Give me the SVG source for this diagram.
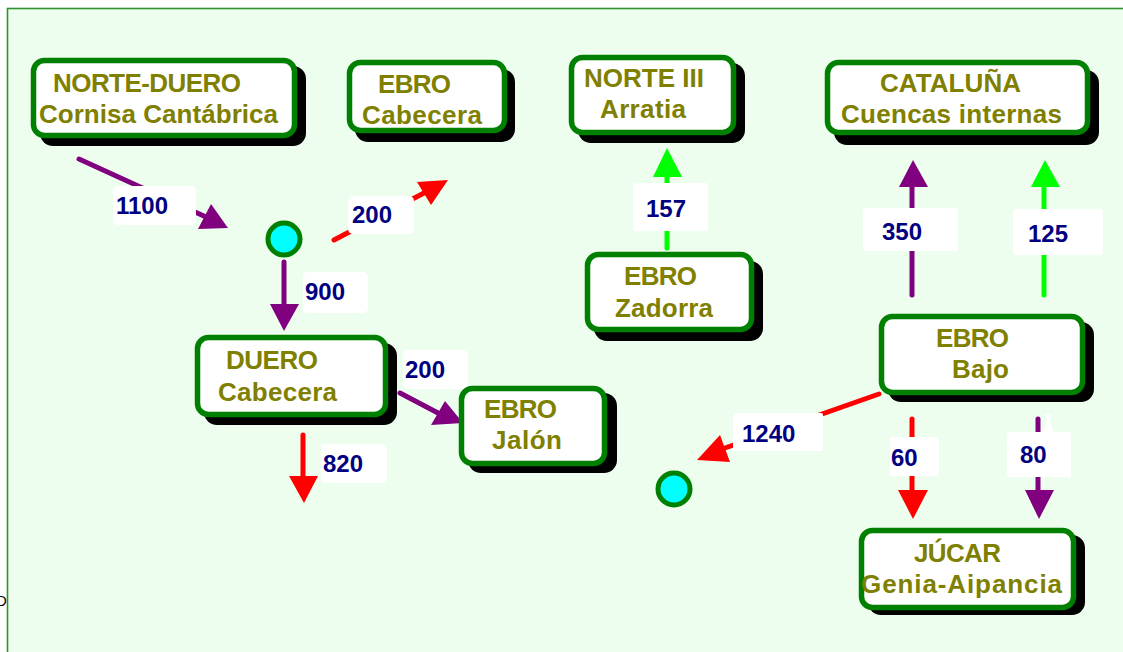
<svg xmlns="http://www.w3.org/2000/svg" width="1123" height="652" viewBox="0 0 1123 652">
<style>
.nt{font-family:"Liberation Sans",Arial,sans-serif;font-weight:bold;font-size:26px;fill:#808000}
.lt{font-family:"Liberation Sans",Arial,sans-serif;font-weight:bold;font-size:24px;fill:#000080}
.box{fill:#ffffff;stroke:#008000;stroke-width:5.5}
.sh{fill:#000000}
.lb{fill:#ffffff}
.pu{stroke:#800080;stroke-width:5;stroke-linecap:round;fill:none}
.rd{stroke:#ff0000;stroke-width:5;stroke-linecap:round;fill:none}
.gr{stroke:#00ff00;stroke-width:5;stroke-linecap:round;fill:none}
.puh{fill:#800080}
.rdh{fill:#ff0000}
.grh{fill:#00ff00}
.jn{fill:#00ffff;stroke:#008000;stroke-width:5}
</style>
<rect x="0" y="0" width="1123" height="652" fill="#ffffff"/>
<text x="-4" y="606" font-family="Liberation Sans, Arial, sans-serif" font-size="15" fill="#000000">D</text>
<rect x="7.5" y="8.5" width="1200" height="700" fill="#eefeee" stroke="#2e922e" stroke-width="1.6"/>

<g id="connectors">
  <line class="pu" x1="79" y1="159" x2="206" y2="217"/>
  <polygon class="puh" points="228,228 198,229 211,204"/>
  <line class="rd" x1="334" y1="240" x2="424" y2="193"/>
  <polygon class="rdh" points="448,180 417,182 431,205"/>
  <line class="pu" x1="284" y1="262" x2="284" y2="306"/>
  <polygon class="puh" points="270,304 299,304 284,331"/>
  <line class="pu" x1="400" y1="393" x2="438" y2="413"/>
  <polygon class="puh" points="463,423 431,425 445,401"/>
  <line class="rd" x1="303" y1="435" x2="303" y2="478"/>
  <polygon class="rdh" points="289,476 318,476 304,503"/>
  <line class="gr" x1="667" y1="248" x2="667" y2="175"/>
  <polygon class="grh" points="653,177 682,177 667,148"/>
  <line class="pu" x1="912" y1="295" x2="912" y2="185"/>
  <polygon class="puh" points="899,187 928,187 913,160"/>
  <line class="gr" x1="1044" y1="295" x2="1044" y2="185"/>
  <polygon class="grh" points="1031,187 1060,187 1045,160"/>
  <line class="rd" x1="879" y1="394" x2="725" y2="448"/>
  <polygon class="rdh" points="697,460 720,435 730,462"/>
  <line class="rd" x1="912" y1="419" x2="912" y2="492"/>
  <polygon class="rdh" points="898,490 928,490 913,519"/>
  <line class="pu" x1="1038" y1="419" x2="1038" y2="492"/>
  <polygon class="puh" points="1025,490 1054,490 1039,519"/>

  <g id="label-1100"><rect class="lb" x="113" y="186" width="83" height="39" rx="5"/><text class="lt" x="116" y="214">1100</text></g>
  <g id="label-200a"><rect class="lb" x="348" y="196" width="66" height="38" rx="5"/><text class="lt" x="352" y="223">200</text></g>
  <g id="label-900"><rect class="lb" x="303" y="272" width="65" height="41" rx="5"/><text class="lt" x="305" y="300">900</text></g>
  <g id="label-200b"><rect class="lb" x="403" y="350" width="65" height="39" rx="5"/><text class="lt" x="405" y="378">200</text></g>
  <g id="label-820"><rect class="lb" x="321" y="444" width="66" height="39" rx="5"/><text class="lt" x="323" y="472">820</text></g>
  <g id="label-157"><rect class="lb" x="633" y="183" width="75" height="48" rx="3"/><text class="lt" x="646" y="217">157</text></g>
  <g id="label-350"><rect class="lb" x="863" y="208" width="95" height="43" rx="3"/><text class="lt" x="882" y="240">350</text></g>
  <g id="label-125"><rect class="lb" x="1013" y="209" width="90" height="46" rx="3"/><text class="lt" x="1028" y="242">125</text></g>
  <g id="label-1240"><rect class="lb" x="733" y="413" width="90" height="38" rx="2"/><text class="lt" x="742" y="442">1240</text></g>
  <g id="label-60"><rect class="lb" x="890" y="437" width="49" height="39" rx="2"/><text class="lt" x="891" y="466">60</text></g>
  <g id="label-80"><rect class="lb" x="1007" y="432" width="64" height="45" rx="3"/><polygon class="lb" points="1043,433 1048,417 1054,433"/><circle class="lb" cx="1048" cy="417" r="3"/><text class="lt" x="1020" y="463">80</text></g>
</g>

<g id="junction-1"><circle class="jn" cx="284" cy="239" r="16"/></g>
<g id="junction-2"><circle class="jn" cx="674" cy="489" r="16"/></g>

<g id="norte-duero">
  <rect class="sh" x="40" y="66" width="266" height="80" rx="13"/>
  <rect class="box" x="33.5" y="60.5" width="261" height="75" rx="11"/>
  <text class="nt" x="53" y="92" textLength="188">NORTE-DUERO</text>
  <text class="nt" x="39" y="123" textLength="239">Cornisa Cantábrica</text>
</g>
<g id="ebro-cabecera">
  <rect class="sh" x="355" y="69" width="160" height="73" rx="13"/>
  <rect class="box" x="349.5" y="62.5" width="155" height="68" rx="11"/>
  <text class="nt" x="378" y="93" textLength="73">EBRO</text>
  <text class="nt" x="362" y="124" textLength="120">Cabecera</text>
</g>
<g id="norte-iii">
  <rect class="sh" x="578" y="63" width="167" height="80" rx="13"/>
  <rect class="box" x="571.5" y="57.5" width="162" height="75" rx="11"/>
  <text class="nt" x="584" y="87" textLength="120">NORTE III</text>
  <text class="nt" x="600" y="118" textLength="86">Arratia</text>
</g>
<g id="cataluna">
  <rect class="sh" x="834" y="70" width="265" height="75" rx="13"/>
  <rect class="box" x="827.5" y="62.5" width="260" height="70" rx="11"/>
  <text class="nt" x="880" y="92" textLength="141">CATALUÑA</text>
  <text class="nt" x="841" y="123" textLength="221">Cuencas internas</text>
</g>
<g id="ebro-zadorra">
  <rect class="sh" x="594" y="261" width="169" height="80" rx="13"/>
  <rect class="box" x="587.5" y="254.5" width="164" height="75" rx="11"/>
  <text class="nt" x="624" y="285" textLength="73">EBRO</text>
  <text class="nt" x="615" y="317" textLength="98">Zadorra</text>
</g>
<g id="ebro-bajo">
  <rect class="sh" x="888" y="322" width="206" height="80" rx="13"/>
  <rect class="box" x="881.5" y="316.5" width="201" height="76" rx="11"/>
  <text class="nt" x="936" y="347" textLength="73">EBRO</text>
  <text class="nt" x="952" y="378" textLength="57">Bajo</text>
</g>
<g id="jucar">
  <rect class="sh" x="868" y="535" width="217" height="80" rx="13"/>
  <rect class="box" x="861.5" y="530.5" width="212" height="77" rx="11"/>
  <text class="nt" x="914" y="562" textLength="87">JÚCAR</text>
  <text class="nt" x="861" y="593" textLength="201">Genia-Aipancia</text>
</g>
<g id="duero-cabecera">
  <rect class="sh" x="204" y="343" width="193" height="82" rx="13"/>
  <rect class="box" x="197.5" y="337.5" width="188" height="77" rx="11"/>
  <text class="nt" x="226" y="369" textLength="92">DUERO</text>
  <text class="nt" x="218" y="401" textLength="119">Cabecera</text>
</g>
<g id="ebro-jalon">
  <rect class="sh" x="468" y="393" width="149" height="80" rx="13"/>
  <rect class="box" x="461.5" y="388.5" width="143" height="75" rx="11"/>
  <text class="nt" x="484" y="418" textLength="73">EBRO</text>
  <text class="nt" x="492" y="449" textLength="70">Jalón</text>
</g>
</svg>
